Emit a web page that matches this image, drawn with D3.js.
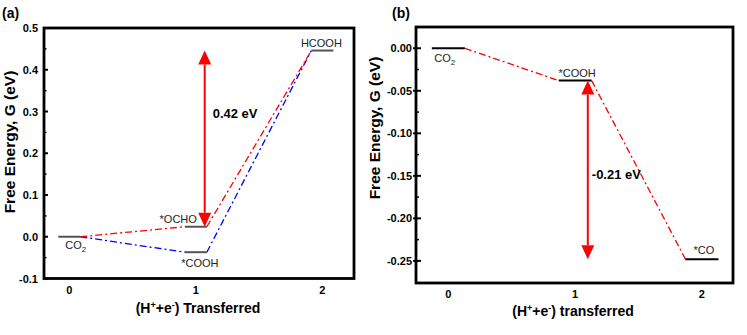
<!DOCTYPE html>
<html><head><meta charset="utf-8">
<script src="https://cdn.jsdelivr.net/npm/d3@7"></script>
<style>
html,body{margin:0;padding:0;background:#fff;}
svg{display:block;}
text{font-family:"Liberation Sans",Arial,sans-serif;}
</style></head><body>
<svg id="c" width="747" height="335"></svg>
<script>
// ---- data ----
const steps = [0, 1, 2];
const xTickLabels = ["0", "1", "2"];
// panel (a)
const speciesA_OCHO = ["CO2", "*OCHO", "HCOOH"];
const energyA_OCHO = [0, 0.024, 0.446];
const speciesA_COOH = ["CO2", "*COOH", "HCOOH"];
const energyA_COOH = [0, -0.037, 0.446];
const yTicksA = [-0.1, 0.0, 0.1, 0.2, 0.3, 0.4, 0.5];
const yTickLabelsA = ["-0.1", "0.0", "0.1", "0.2", "0.3", "0.4", "0.5"];
const arrowA = {x: 1.07, from: 0.446, to: 0.024, label: "0.42 eV"};
// panel (b)
const speciesB = ["CO2", "*COOH", "*CO"];
const energyB = [0, -0.038, -0.248];
const yTicksB = [0.00, -0.05, -0.10, -0.15, -0.20, -0.25];
const yTickLabelsB = ["0.00", "-0.05", "-0.10", "-0.15", "-0.20", "-0.25"];
const arrowB = {x: 1.10, from: -0.038, to: -0.248, label: "-0.21 eV"};

const svg = d3.select("#c");
const RED = "#ff0000", BLUE = "#0000ff";

function dashDot(g, xs, ys, xsArr, ysArr, hw, color) {
  const pts = [];
  for (let i = 0; i < xsArr.length - 1; i++) {
    pts.push([[xs(xsArr[i] + hw), ys(ysArr[i])], [xs(xsArr[i+1] - hw), ys(ysArr[i+1])]]);
  }
  pts.forEach(p => {
    g.append("line").attr("x1", p[0][0]).attr("y1", p[0][1]).attr("x2", p[1][0]).attr("y2", p[1][1])
      .attr("stroke", color).attr("stroke-width", 1.3).attr("stroke-dasharray", "7,3,2,3");
  });
}
function levels(g, xs, ys, xsArr, ysArr, hw, color) {
  xsArr.forEach((x, i) => {
    g.append("line").attr("x1", xs(x - hw)).attr("x2", xs(x + hw)).attr("y1", ys(ysArr[i])).attr("y2", ys(ysArr[i]))
      .attr("stroke", color).attr("stroke-width", 2);
  });
}
function arrow(g, xs, ys, a) {
  const x = xs(a.x), y1 = ys(a.from), y2 = ys(a.to);
  const dir = y2 > y1 ? 1 : -1;
  const hl = 14, hw = 6.5;
  g.append("line").attr("x1", x).attr("x2", x).attr("y1", y1 + dir*hl).attr("y2", y2 - dir*hl)
    .attr("stroke", RED).attr("stroke-width", 2);
  g.append("path").attr("d", `M${x},${y1} L${x-hw},${y1+dir*hl} L${x+hw},${y1+dir*hl} Z`).attr("fill", RED);
  g.append("path").attr("d", `M${x},${y2} L${x-hw},${y2-dir*hl} L${x+hw},${y2-dir*hl} Z`).attr("fill", RED);
}
function co2(g, x, y) {
  const t = g.append("text").attr("x", x).attr("y", y).attr("font-size", 11).attr("fill", "#222");
  t.append("tspan").text("CO");
  t.append("tspan").attr("font-size", 8).attr("dy", 3).text("2");
}

// ================= Panel (a) =================
const xA = d3.scaleLinear().domain([-0.2, 2.25]).range([44, 354]);
const yA = d3.scaleLinear().domain([-0.1, 0.5]).range([278.5, 28]);
const gA = svg.append("g");
const hwA = 0.087;

dashDot(gA, xA, yA, steps, energyA_COOH, hwA, BLUE);
dashDot(gA, xA, yA, steps, energyA_OCHO, hwA, RED);
levels(gA, xA, yA, steps, energyA_OCHO, hwA, "#555");
levels(gA, xA, yA, [1], [energyA_COOH[1]], hwA, "#555");
arrow(gA, xA, yA, arrowA);

// ticks
const minorA = d3.range(-0.05, 0.5, 0.1);
gA.selectAll(".mt").data(minorA).join("line").attr("x1", 44).attr("x2", 46.5)
  .attr("y1", d => yA(d)).attr("y2", d => yA(d)).attr("stroke", "#000").attr("stroke-width", 1.5);
gA.selectAll(".Mt").data(yTicksA).join("line").attr("x1", 43).attr("x2", 48)
  .attr("y1", d => yA(d)).attr("y2", d => yA(d)).attr("stroke", "#000").attr("stroke-width", 2);
gA.selectAll(".yl").data(yTicksA).join("text").attr("x", 38).attr("y", d => yA(d) + 4)
  .attr("text-anchor", "end").attr("font-size", 11).attr("font-weight", "bold").text((d, i) => yTickLabelsA[i]);
gA.selectAll(".xl").data(steps).join("text").attr("x", d => xA(d)).attr("y", 294)
  .attr("text-anchor", "middle").attr("font-size", 11).attr("font-weight", "bold").text((d, i) => xTickLabels[i]);

// frame
gA.append("rect").attr("x", 44).attr("y", 28).attr("width", 310).attr("height", 250.5)
  .attr("fill", "none").attr("stroke", "#000").attr("stroke-width", 2.8);

// species labels
co2(gA, xA(0) - 4, yA(0) + 12);
gA.append("text").attr("x", xA(1) + 1).attr("y", yA(energyA_OCHO[1]) - 4).attr("text-anchor", "end")
  .attr("font-size", 11).attr("fill", "#222").text(speciesA_OCHO[1]);
gA.append("text").attr("x", xA(1) + 4).attr("y", yA(energyA_COOH[1]) + 15).attr("text-anchor", "middle")
  .attr("font-size", 11).attr("fill", "#222").text(speciesA_COOH[1]);
gA.append("text").attr("x", xA(2) - 1).attr("y", yA(energyA_OCHO[2]) - 4).attr("text-anchor", "middle")
  .attr("font-size", 11).attr("fill", "#222").text(speciesA_OCHO[2]);
gA.append("text").attr("x", xA(arrowA.x) + 8).attr("y", yA(0.3) + 6).attr("font-size", 13)
  .attr("font-weight", "bold").text(arrowA.label);

// titles
gA.append("text").attr("transform", `translate(15,142) rotate(-90)`).attr("text-anchor", "middle")
  .attr("font-size", 15.5).attr("font-weight", "bold").attr("font-family", "'Open Sans',sans-serif")
  .text("Free Energy, G (eV)");
const tA = gA.append("text").attr("x", 198).attr("y", 313).attr("text-anchor", "middle")
  .attr("font-size", 14).attr("font-weight", "bold");
tA.append("tspan").text("(H");
tA.append("tspan").attr("font-size", 9).attr("dy", -5).text("+");
tA.append("tspan").attr("dy", 5).text("+e");
tA.append("tspan").attr("font-size", 9).attr("dy", -5).text("-");
tA.append("tspan").attr("dy", 5).text(") Transferred");
gA.append("text").attr("x", 2).attr("y", 18).attr("font-size", 14).attr("font-weight", "bold")
  .attr("font-family", "'Open Sans',sans-serif").text("(a)");

// ================= Panel (b) =================
const xB = d3.scaleLinear().domain([-0.255, 2.245]).range([416, 733]);
const yB = d3.scaleLinear().domain([-0.276, 0.025]).range([283, 27]);
const gB = svg.append("g");
const hwB = 0.13;

dashDot(gB, xB, yB, steps, energyB, hwB, RED);
levels(gB, xB, yB, steps, energyB, hwB, "#000");
arrow(gB, xB, yB, arrowB);

const minorB = d3.range(-0.025, -0.27, -0.05).concat([0.025]);
gB.selectAll(".mt").data(minorB).join("line").attr("x1", 416).attr("x2", 419)
  .attr("y1", d => yB(d)).attr("y2", d => yB(d)).attr("stroke", "#000").attr("stroke-width", 1.5);
gB.selectAll(".Mt").data(yTicksB).join("line").attr("x1", 413).attr("x2", 421)
  .attr("y1", d => yB(d)).attr("y2", d => yB(d)).attr("stroke", "#000").attr("stroke-width", 2);
gB.selectAll(".yl").data(yTicksB).join("text").attr("x", 412).attr("y", d => yB(d) + 4)
  .attr("text-anchor", "end").attr("font-size", 11).attr("font-weight", "bold").text((d, i) => yTickLabelsB[i]);
gB.selectAll(".xl").data(steps).join("text").attr("x", d => xB(d)).attr("y", 298)
  .attr("text-anchor", "middle").attr("font-size", 11).attr("font-weight", "bold").text((d, i) => xTickLabels[i]);

gB.append("rect").attr("x", 416).attr("y", 27).attr("width", 317).attr("height", 256)
  .attr("fill", "none").attr("stroke", "#000").attr("stroke-width", 2.8);

co2(gB, xB(0) - 14, yB(0) + 14);
gB.append("text").attr("x", xB(1) + 2).attr("y", yB(energyB[1]) - 4).attr("text-anchor", "middle")
  .attr("font-size", 11).attr("fill", "#222").text(speciesB[1]);
gB.append("text").attr("x", xB(2) + 2).attr("y", yB(energyB[2]) - 5).attr("text-anchor", "middle")
  .attr("font-size", 11).attr("fill", "#222").text(speciesB[2]);
gB.append("text").attr("x", xB(arrowB.x) + 4).attr("y", yB(-0.148) + 5).attr("font-size", 13)
  .attr("font-weight", "bold").text(arrowB.label);

gB.append("text").attr("transform", `translate(380,128) rotate(-90)`).attr("text-anchor", "middle")
  .attr("font-size", 15.5).attr("font-weight", "bold").attr("font-family", "'Open Sans',sans-serif")
  .text("Free Energy, G (eV)");
const tB = gB.append("text").attr("x", 573).attr("y", 316).attr("text-anchor", "middle")
  .attr("font-size", 14).attr("font-weight", "bold");
tB.append("tspan").text("(H");
tB.append("tspan").attr("font-size", 9).attr("dy", -5).text("+");
tB.append("tspan").attr("dy", 5).text("+e");
tB.append("tspan").attr("font-size", 9).attr("dy", -5).text("-");
tB.append("tspan").attr("dy", 5).text(") transferred");
gB.append("text").attr("x", 392).attr("y", 18).attr("font-size", 14).attr("font-weight", "bold")
  .attr("font-family", "'Open Sans',sans-serif").text("(b)");
</script>
</body></html>
